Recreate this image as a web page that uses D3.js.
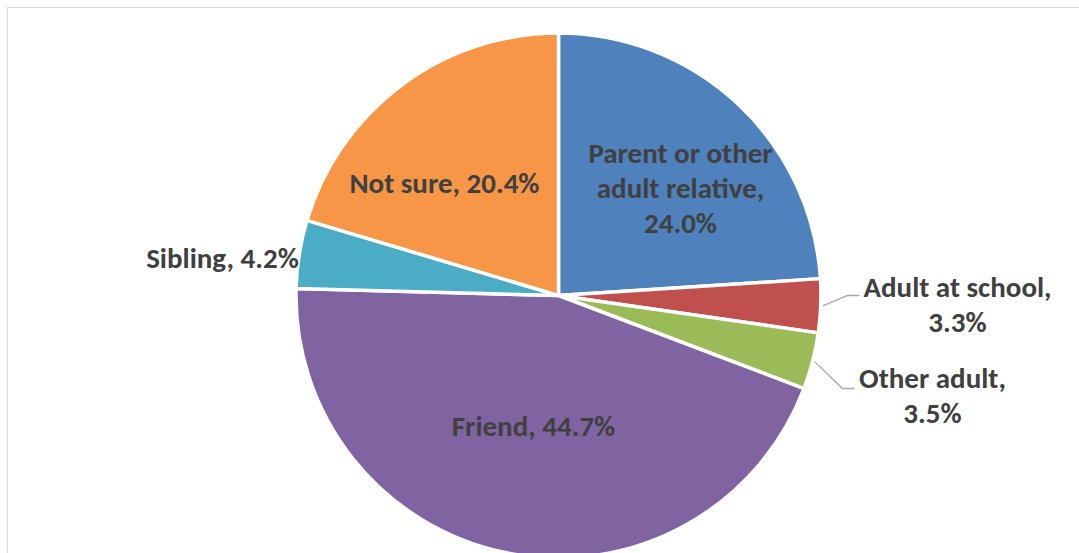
<!DOCTYPE html>
<html>
<head>
<meta charset="utf-8">
<script src="https://cdn.jsdelivr.net/npm/d3@7"></script>
<style>
  body { margin: 0; background: #fff; }
  svg { display: block; }
  .label { font-family: Carlito, Calibri, "Open Sans", sans-serif; font-weight: bold; fill: #404040; }
</style>
</head>
<body>
<div id="chart"></div>
<script>
// Chart data
const categories = ["Parent or other adult relative", "Adult at school", "Other adult", "Friend", "Sibling", "Not sure"];
const values = [24.0, 3.3, 3.5, 44.7, 4.2, 20.4];
const colors = ["#4F81BD", "#C0504D", "#9BBB59", "#8064A2", "#4BACC6", "#F79646"];

// Label text lines, as in the picture
const labelLines = [
    ["Parent or other", "adult relative,", "24.0%"],
    ["Adult at school,", "3.3%"],
    ["Other adult,", "3.5%"],
    ["Friend, 44.7%"],
    ["Sibling, 4.2%"],
    ["Not sure, 20.4%"]
];

// Label placement (offset of first baseline from pie center) and leader elbows
const labelLayout = [
    { dx: 122, dy: -133 },
    { dx: 399, dy: 1, leader: [[289, 0], [301, 0]] },
    { dx: 374, dy: 92, leader: [[284, 93], [296, 93]] },
    { dx: -25, dy: 140 },
    { dx: -336, dy: -28 },
    { dx: -114, dy: -103 }
];

const W = 1079, H = 553;
const cx = 558.5, cy = 295.5, r = 262.5;
const fontSize = 29, lineGap = 35;

const svg = d3.select("#chart").append("svg")
    .attr("width", W)
    .attr("height", H);

// Chart area border
svg.append("rect")
    .attr("x", 7.5).attr("y", 7.5)
    .attr("width", W + 10).attr("height", H + 10)
    .attr("fill", "none")
    .attr("stroke", "#d9d9d9")
    .attr("stroke-width", 1);

const data = categories.map((c, i) => ({ name: c, value: values[i], i: i }));

const pie = d3.pie().value(d => d.value).sort(null);
const arcs = pie(data);

const arc = d3.arc().innerRadius(0).outerRadius(r);

const g = svg.append("g").attr("transform", `translate(${cx},${cy})`);

g.selectAll(".slice")
    .data(arcs)
    .enter()
    .append("path")
    .attr("class", "slice")
    .attr("d", arc)
    .attr("fill", d => colors[d.data.i])
    .attr("stroke", "#fff")
    .attr("stroke-width", 3.5)
    .attr("stroke-linejoin", "round");

// Leader lines for outside labels
g.selectAll(".leader")
    .data(arcs.filter(d => labelLayout[d.data.i].leader))
    .enter()
    .append("polyline")
    .attr("class", "leader")
    .attr("points", d => {
        const a = (d.startAngle + d.endAngle) / 2;
        const start = [Math.sin(a) * (r + 2), -Math.cos(a) * (r + 2)];
        return [start, ...labelLayout[d.data.i].leader].map(p => p.join(",")).join(" ");
    })
    .attr("fill", "none")
    .attr("stroke", "#a6a6a6")
    .attr("stroke-width", 1.3);

// Data labels
const labels = g.selectAll(".label")
    .data(arcs)
    .enter()
    .append("text")
    .attr("class", "label")
    .attr("font-size", fontSize)
    .attr("text-anchor", "middle")
    .attr("transform", d => `translate(${labelLayout[d.data.i].dx},${labelLayout[d.data.i].dy})`);

labels.selectAll("tspan")
    .data(d => labelLines[d.data.i])
    .enter()
    .append("tspan")
    .attr("x", 0)
    .attr("y", (t, k) => k * lineGap)
    .text(t => t);
</script>
</body>
</html>
